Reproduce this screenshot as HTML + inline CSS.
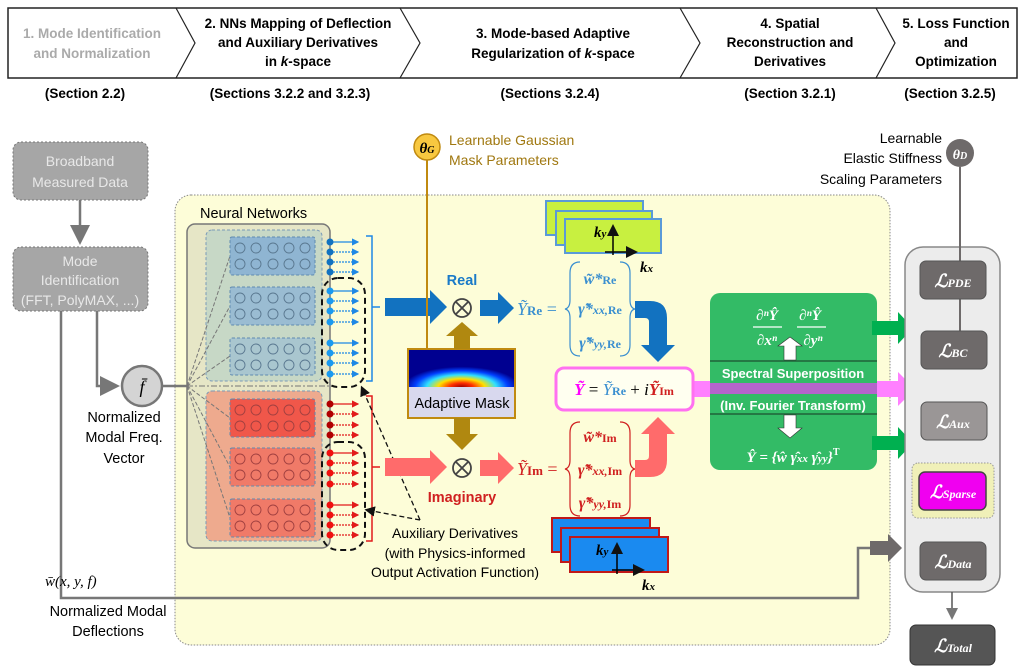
<!DOCTYPE html>
<html><head><meta charset="utf-8"><style>
html,body{margin:0;padding:0;background:#fff;}
svg{display:block;font-family:"Liberation Sans",sans-serif;}
.c{font-family:"Liberation Sans Narrow","Liberation Sans",sans-serif;}
.m{font-family:"Liberation Serif",serif;font-style:italic;font-weight:bold;}
</style></head><body>
<svg width="1023" height="672" viewBox="0 0 1023 672" xmlns="http://www.w3.org/2000/svg">
<defs>
<marker id="ag" markerWidth="8" markerHeight="8" refX="6" refY="4" orient="auto"><path d="M0,0L8,4L0,8z" fill="#777"/></marker>
<marker id="ak" markerWidth="8" markerHeight="8" refX="6" refY="4" orient="auto"><path d="M0,0L8,4L0,8z" fill="#111"/></marker>
<marker id="ab" markerWidth="6" markerHeight="6" refX="5" refY="3" orient="auto"><path d="M0,0L6,3L0,6z" fill="#1e88e5"/></marker>
<marker id="ar" markerWidth="6" markerHeight="6" refX="5" refY="3" orient="auto"><path d="M0,0L6,3L0,6z" fill="#e21b1b"/></marker>
<radialGradient id="gs" cx="0.5" cy="1" r="0.55" fx="0.5" fy="1">
<stop offset="0" stop-color="#a00000"/><stop offset="0.2" stop-color="#ff3000"/><stop offset="0.4" stop-color="#ffe000"/><stop offset="0.6" stop-color="#30e0ff"/><stop offset="0.8" stop-color="#0040ff"/><stop offset="1" stop-color="#000090"/></radialGradient>
</defs>

<rect x="8" y="8" width="1009" height="70" fill="#fff" stroke="#222" stroke-width="1.5"/>
<g fill="none" stroke="#222" stroke-width="1.2">
<path d="M176,8 L195,43 L176,78"/><path d="M400,8 L420,43 L400,78"/><path d="M680,8 L700,43 L680,78"/><path d="M876,8 L895,43 L876,78"/>
</g>
<g class="c" font-weight="bold" font-size="13.5" text-anchor="middle">
<text x="92" y="38" fill="#aaa">1. Mode Identification</text><text x="92" y="58" fill="#aaa">and Normalization</text>
<text x="298" y="28">2. NNs Mapping of Deflection</text><text x="298" y="47">and Auxiliary Derivatives</text><text x="298" y="66">in <tspan font-style="italic">k</tspan>-space</text>
<text x="553" y="38">3. Mode-based Adaptive</text><text x="553" y="58">Regularization of <tspan font-style="italic">k</tspan>-space</text>
<text x="790" y="28">4. Spatial</text><text x="790" y="47">Reconstruction and</text><text x="790" y="66">Derivatives</text>
<text x="956" y="28">5. Loss Function</text><text x="956" y="47">and</text><text x="956" y="66">Optimization</text>
<text x="85" y="98">(Section 2.2)</text><text x="290" y="98">(Sections 3.2.2 and 3.2.3)</text><text x="550" y="98">(Sections 3.2.4)</text><text x="790" y="98">(Section 3.2.1)</text><text x="950" y="98">(Section 3.2.5)</text>
</g>

<rect x="175" y="195" width="715" height="450" rx="16" fill="#fdfdd8" stroke="#888" stroke-dasharray="1.5,1.5"/>

<rect x="13" y="142" width="135" height="58" rx="8" fill="#a6a6a6" stroke="#777" stroke-dasharray="2,2"/>
<text x="80" y="166" fill="#e8e8e8" font-size="14" text-anchor="middle">Broadband</text>
<text x="80" y="187" fill="#e8e8e8" font-size="14" text-anchor="middle">Measured Data</text>
<line x1="80" y1="200" x2="80" y2="240" stroke="#777" stroke-width="2.5" marker-end="url(#ag)"/>
<rect x="13" y="247" width="135" height="64" rx="8" fill="#a6a6a6" stroke="#777" stroke-dasharray="2,2"/>
<text x="80" y="266" fill="#e8e8e8" font-size="14" text-anchor="middle">Mode</text>
<text x="80" y="285" fill="#e8e8e8" font-size="14" text-anchor="middle">Identification</text>
<text x="80" y="305" fill="#e8e8e8" font-size="14" text-anchor="middle">(FFT, PolyMAX, ...)</text>
<path d="M97,311 V386 H115" fill="none" stroke="#777" stroke-width="2.5" marker-end="url(#ag)"/>
<circle cx="142" cy="386" r="20" fill="#d4d4d4" stroke="#777" stroke-width="2.5"/>
<text x="142" y="393" font-size="18" text-anchor="middle" font-family="Liberation Serif" font-style="italic">f̄</text>
<line x1="162" y1="386" x2="188" y2="386" stroke="#777" stroke-width="2.5"/>
<g font-size="14.5" text-anchor="middle"><text x="124" y="422">Normalized</text><text x="124" y="442">Modal Freq.</text><text x="124" y="463">Vector</text></g>
<path d="M61,311 V598 H858 V548 H878" fill="none" stroke="#777" stroke-width="2.5"/>
<path d="M870,541 H888 V534 L902,548 L888,562 V555 H870z" fill="#6e6a6a"/>
<text x="45" y="586" font-size="15" font-family="Liberation Serif" font-style="italic">w̄(x, y, f)</text>
<g font-size="14.5" text-anchor="middle"><text x="108" y="616">Normalized Modal</text><text x="108" y="636">Deflections</text></g>

<text x="200" y="218" font-size="14.5">Neural Networks</text>
<rect x="187" y="224" width="143" height="324" rx="8" fill="#e6e6c6" stroke="#777" stroke-width="1.5"/>
<rect x="206" y="230" width="116" height="151" rx="6" fill="#c7d8c6" stroke="#7a9ab8" stroke-dasharray="3,2"/>
<rect x="206" y="391" width="116" height="150" rx="6" fill="#eeaa8e" stroke="#7a9ab8" stroke-dasharray="3,2"/>
<line x1="163" y1="386" x2="330" y2="386" stroke="#777" stroke-dasharray="6,2,2,2"/>
<g stroke="#777" stroke-dasharray="4,2" fill="none">
<path d="M187,386 L230,256 M187,386 L230,306 M187,386 L230,356 M187,386 L230,418 M187,386 L230,467 M187,386 L230,518"/>
</g>
<g stroke="#5f8ab0" stroke-dasharray="3,2">
<rect x="230" y="237" width="85" height="38" rx="2" fill="#8fb5d2"/>
<rect x="230" y="287" width="85" height="38" rx="2" fill="#9abcd2"/>
<rect x="230" y="338" width="85" height="37" rx="2" fill="#a9c6cf"/>
<rect x="230" y="399" width="85" height="38" rx="2" fill="#f0574a"/>
<rect x="230" y="448" width="85" height="38" rx="2" fill="#f07a68"/>
<rect x="230" y="499" width="85" height="38" rx="2" fill="#f07a68"/>
</g>
<g fill="none" stroke="#5a7890" stroke-width="0.9">
<circle cx="240" cy="248" r="5"/><circle cx="256" cy="248" r="5"/><circle cx="273" cy="248" r="5"/><circle cx="289" cy="248" r="5"/><circle cx="305" cy="248" r="5"/>
<circle cx="240" cy="264" r="5"/><circle cx="256" cy="264" r="5"/><circle cx="273" cy="264" r="5"/><circle cx="289" cy="264" r="5"/><circle cx="305" cy="264" r="5"/>
<circle cx="240" cy="298" r="5"/><circle cx="256" cy="298" r="5"/><circle cx="273" cy="298" r="5"/><circle cx="289" cy="298" r="5"/><circle cx="305" cy="298" r="5"/>
<circle cx="240" cy="314" r="5"/><circle cx="256" cy="314" r="5"/><circle cx="273" cy="314" r="5"/><circle cx="289" cy="314" r="5"/><circle cx="305" cy="314" r="5"/>
<circle cx="240" cy="349" r="5"/><circle cx="256" cy="349" r="5"/><circle cx="273" cy="349" r="5"/><circle cx="289" cy="349" r="5"/><circle cx="305" cy="349" r="5"/>
<circle cx="240" cy="365" r="5"/><circle cx="256" cy="365" r="5"/><circle cx="273" cy="365" r="5"/><circle cx="289" cy="365" r="5"/><circle cx="305" cy="365" r="5"/>
</g>
<g fill="none" stroke="#a04040" stroke-width="0.9">
<circle cx="240" cy="410" r="5"/><circle cx="256" cy="410" r="5"/><circle cx="273" cy="410" r="5"/><circle cx="289" cy="410" r="5"/><circle cx="305" cy="410" r="5"/>
<circle cx="240" cy="426" r="5"/><circle cx="256" cy="426" r="5"/><circle cx="273" cy="426" r="5"/><circle cx="289" cy="426" r="5"/><circle cx="305" cy="426" r="5"/>
<circle cx="240" cy="459" r="5"/><circle cx="256" cy="459" r="5"/><circle cx="273" cy="459" r="5"/><circle cx="289" cy="459" r="5"/><circle cx="305" cy="459" r="5"/>
<circle cx="240" cy="475" r="5"/><circle cx="256" cy="475" r="5"/><circle cx="273" cy="475" r="5"/><circle cx="289" cy="475" r="5"/><circle cx="305" cy="475" r="5"/>
<circle cx="240" cy="510" r="5"/><circle cx="256" cy="510" r="5"/><circle cx="273" cy="510" r="5"/><circle cx="289" cy="510" r="5"/><circle cx="305" cy="510" r="5"/>
<circle cx="240" cy="526" r="5"/><circle cx="256" cy="526" r="5"/><circle cx="273" cy="526" r="5"/><circle cx="289" cy="526" r="5"/><circle cx="305" cy="526" r="5"/>
</g>
<g stroke="#1e88e5" stroke-width="1.2">
<line x1="330" y1="242" x2="358" y2="242" marker-end="url(#ab)"/>
<line x1="330" y1="252" x2="358" y2="252" stroke-dasharray="2,1" marker-end="url(#ab)"/>
<line x1="330" y1="262" x2="358" y2="262" stroke-dasharray="2,1" marker-end="url(#ab)"/>
<line x1="330" y1="272" x2="358" y2="272" stroke-dasharray="2,1" marker-end="url(#ab)"/>
<line x1="330" y1="291" x2="358" y2="291" marker-end="url(#ab)"/>
<line x1="330" y1="301" x2="358" y2="301" stroke-dasharray="2,1" marker-end="url(#ab)"/>
<line x1="330" y1="311" x2="358" y2="311" stroke-dasharray="2,1" marker-end="url(#ab)"/>
<line x1="330" y1="322" x2="358" y2="322" stroke-dasharray="2,1" marker-end="url(#ab)"/>
<line x1="330" y1="343" x2="358" y2="343" marker-end="url(#ab)"/>
<line x1="330" y1="353" x2="358" y2="353" stroke-dasharray="2,1" marker-end="url(#ab)"/>
<line x1="330" y1="363" x2="358" y2="363" stroke-dasharray="2,1" marker-end="url(#ab)"/>
<line x1="330" y1="374" x2="358" y2="374" stroke-dasharray="2,1" marker-end="url(#ab)"/>
</g>
<g fill="#1272c0"><circle cx="330" cy="242" r="3.5"/><circle cx="330" cy="252" r="3.5"/><circle cx="330" cy="262" r="3.5"/><circle cx="330" cy="272" r="3.5"/></g>
<g fill="#1a9af0"><circle cx="330" cy="291" r="3.5"/><circle cx="330" cy="301" r="3.5"/><circle cx="330" cy="311" r="3.5"/><circle cx="330" cy="322" r="3.5"/><circle cx="330" cy="343" r="3.5"/><circle cx="330" cy="353" r="3.5"/><circle cx="330" cy="363" r="3.5"/><circle cx="330" cy="374" r="3.5"/></g>
<g stroke="#e21b1b" stroke-width="1.2">
<line x1="330" y1="404" x2="358" y2="404" marker-end="url(#ar)"/>
<line x1="330" y1="414" x2="358" y2="414" stroke-dasharray="2,1" marker-end="url(#ar)"/>
<line x1="330" y1="425" x2="358" y2="425" stroke-dasharray="2,1" marker-end="url(#ar)"/>
<line x1="330" y1="435" x2="358" y2="435" stroke-dasharray="2,1" marker-end="url(#ar)"/>
<line x1="330" y1="453" x2="358" y2="453" marker-end="url(#ar)"/>
<line x1="330" y1="463" x2="358" y2="463" stroke-dasharray="2,1" marker-end="url(#ar)"/>
<line x1="330" y1="473" x2="358" y2="473" stroke-dasharray="2,1" marker-end="url(#ar)"/>
<line x1="330" y1="484" x2="358" y2="484" stroke-dasharray="2,1" marker-end="url(#ar)"/>
<line x1="330" y1="505" x2="358" y2="505" marker-end="url(#ar)"/>
<line x1="330" y1="515" x2="358" y2="515" stroke-dasharray="2,1" marker-end="url(#ar)"/>
<line x1="330" y1="525" x2="358" y2="525" stroke-dasharray="2,1" marker-end="url(#ar)"/>
<line x1="330" y1="535" x2="358" y2="535" stroke-dasharray="2,1" marker-end="url(#ar)"/>
</g>
<g fill="#b00000"><circle cx="330" cy="404" r="3.5"/><circle cx="330" cy="414" r="3.5"/><circle cx="330" cy="425" r="3.5"/><circle cx="330" cy="435" r="3.5"/></g>
<g fill="#f01010"><circle cx="330" cy="453" r="3.5"/><circle cx="330" cy="463" r="3.5"/><circle cx="330" cy="473" r="3.5"/><circle cx="330" cy="484" r="3.5"/><circle cx="330" cy="505" r="3.5"/><circle cx="330" cy="515" r="3.5"/><circle cx="330" cy="525" r="3.5"/><circle cx="330" cy="535" r="3.5"/></g>
<rect x="322" y="278" width="43" height="109" rx="16" fill="none" stroke="#111" stroke-width="2" stroke-dasharray="6,4"/>
<rect x="322" y="442" width="43" height="108" rx="16" fill="none" stroke="#111" stroke-width="2" stroke-dasharray="6,4"/>
<path d="M366,236 H372 V381 H366 M372,307 H380" fill="none" stroke="#1e88e5" stroke-width="1.5"/>
<path d="M366,396 H372 V541 H366 M372,467 H380" fill="none" stroke="#e21b1b" stroke-width="1.5"/>
<g stroke="#111" stroke-width="1.3" stroke-dasharray="5,3" fill="none">
<path d="M420,520 L362,388" marker-end="url(#ak)"/><path d="M420,520 L367,510" marker-end="url(#ak)"/>
</g>
<g font-size="14" text-anchor="middle"><text x="455" y="538">Auxiliary Derivatives</text><text x="455" y="558">(with Physics-informed</text><text x="455" y="577">Output Activation Function)</text></g>

<path d="M385,298 H430 V290 L447,307 L430,324 V316 H385z" fill="#1272c0"/>
<path d="M385,458 H430 V450 L447,467 L430,484 V476 H385z" fill="#ff6b6b"/>
<text x="462" y="285" fill="#1a7ac8" font-weight="bold" font-size="14.5" text-anchor="middle">Real</text>
<text x="462" y="502" fill="#d02020" font-weight="bold" font-size="14.5" text-anchor="middle">Imaginary</text>
<g stroke="#444" stroke-width="1.8" fill="none"><circle cx="462" cy="308" r="9"/><path d="M456,302 L468,314 M468,302 L456,314"/><circle cx="462" cy="468" r="9"/><path d="M456,462 L468,474 M468,462 L456,474"/></g>
<path d="M480,300 H498 V292 L514,308 L498,324 V316 H480z" fill="#1272c0"/>
<path d="M480,460 H498 V452 L514,468 L498,484 V476 H480z" fill="#ff6b6b"/>

<line x1="427" y1="160" x2="427" y2="350" stroke="#c08a10" stroke-width="2"/>
<circle cx="427" cy="147" r="13" fill="#f8c840" stroke="#c08a10" stroke-width="1.5"/>
<text x="427" y="153" font-size="15" class="m" text-anchor="middle">θ<tspan font-size="10">G</tspan></text>
<text x="449" y="145" fill="#a07810" font-size="14">Learnable Gaussian</text>
<text x="449" y="165" fill="#a07810" font-size="14">Mask Parameters</text>
<rect x="408" y="349" width="107" height="69" fill="#d8d8ee" stroke="#c08a10" stroke-width="2"/>
<rect x="409" y="350" width="105" height="37" fill="url(#gs)"/>
<text x="462" y="408" font-size="14.5" text-anchor="middle">Adaptive Mask</text>
<path d="M454,349 V336 H446 L462,322 L478,336 H470 V349z" fill="#b08810"/>
<path d="M454,418 V434 H446 L462,450 L478,434 H470 V418z" fill="#b08810"/>

<g font-family="Liberation Serif" font-size="18">
<text x="517" y="315" fill="#3a8fd0"><tspan font-style="italic">Ỹ</tspan><tspan font-size="13" font-weight="bold">Re</tspan> =</text>
<text x="517" y="475" fill="#d02020"><tspan font-style="italic">Ỹ</tspan><tspan font-size="13" font-weight="bold">Im</tspan> =</text>
</g>
<path d="M580,262 Q570,262 570,273 V300 Q570,308 565,309 Q570,310 570,318 V345 Q570,356 580,356" fill="none" stroke="#3a8fd0" stroke-width="1.2"/>
<path d="M620,262 Q630,262 630,273 V300 Q630,308 635,309 Q630,310 630,318 V345 Q630,356 620,356" fill="none" stroke="#3a8fd0" stroke-width="1.2"/>
<path d="M580,422 Q570,422 570,433 V460 Q570,468 565,469 Q570,470 570,478 V505 Q570,516 580,516" fill="none" stroke="#d02020" stroke-width="1.2"/>
<path d="M620,422 Q630,422 630,433 V460 Q630,468 635,469 Q630,470 630,478 V505 Q630,516 620,516" fill="none" stroke="#d02020" stroke-width="1.2"/>
<g font-family="Liberation Serif" font-style="italic" font-weight="bold" font-size="16" text-anchor="middle">
<text x="600" y="284" fill="#3a8fd0">w̃*<tspan font-size="12" font-style="normal">Re</tspan></text>
<text x="600" y="314" fill="#3a8fd0">γ̃*<tspan font-size="12">xx,</tspan><tspan font-size="12" font-style="normal">Re</tspan></text>
<text x="600" y="348" fill="#3a8fd0">γ̃*<tspan font-size="12">yy,</tspan><tspan font-size="12" font-style="normal">Re</tspan></text>
<text x="600" y="442" fill="#d02020">w̃*<tspan font-size="12" font-style="normal">Im</tspan></text>
<text x="600" y="475" fill="#d02020">γ̃*<tspan font-size="12">xx,</tspan><tspan font-size="12" font-style="normal">Im</tspan></text>
<text x="600" y="508" fill="#d02020">γ̃*<tspan font-size="12">yy,</tspan><tspan font-size="12" font-style="normal">Im</tspan></text>
</g>
<g stroke="#5a9ad8" stroke-width="2" fill="#c8f040">
<rect x="546" y="201" width="97" height="34"/><rect x="556" y="211" width="96" height="34"/><rect x="565" y="219" width="96" height="34"/>
</g>
<g stroke="#c01818" stroke-width="2" fill="#1a8af0">
<rect x="552" y="518" width="98" height="34"/><rect x="561" y="528" width="98" height="34"/><rect x="570" y="537" width="98" height="35"/>
</g>
<g stroke="#000" stroke-width="1.5">
<line x1="613" y1="255" x2="613" y2="227" marker-end="url(#ak)"/><line x1="605" y1="252" x2="635" y2="252" marker-end="url(#ak)"/>
<line x1="617" y1="574" x2="617" y2="545" marker-end="url(#ak)"/><line x1="612" y1="570" x2="642" y2="570" marker-end="url(#ak)"/>
</g>
<g class="m" font-size="15"><text x="594" y="237">k<tspan font-size="11">y</tspan></text><text x="640" y="272">k<tspan font-size="11">x</tspan></text>
<text x="596" y="555">k<tspan font-size="11">y</tspan></text><text x="642" y="590">k<tspan font-size="11">x</tspan></text></g>

<path d="M635,301 H650 Q667,301 667,318 V345 H675 L658,362 L641,345 H649 V322 Q649,318 645,318 H635z" fill="#1272c0"/>
<path d="M635,477 H650 Q667,477 667,460 V434 H675 L658,417 L641,434 H649 V456 Q649,460 645,460 H635z" fill="#ff6b6b"/>

<path d="M693,381 H898 V372 L915,389 L898,406 V397 H693z" fill="#ff80ff"/>
<rect x="556" y="368" width="137" height="42" rx="8" fill="#fffff0" stroke="#ff70f0" stroke-width="3"/>
<text x="624" y="395" font-family="Liberation Serif" font-size="17" text-anchor="middle"><tspan fill="#ff00ff" font-style="italic" font-weight="bold">Ỹ</tspan> = <tspan fill="#3a8fd0" font-style="italic">Ỹ</tspan><tspan fill="#3a8fd0" font-size="12" font-weight="bold">Re</tspan> + <tspan font-style="italic">i</tspan><tspan fill="#d02020" font-style="italic" font-weight="bold">Ỹ</tspan><tspan fill="#d02020" font-size="12" font-weight="bold">Im</tspan></text>

<rect x="710" y="293" width="167" height="177" rx="10" fill="#33bb66"/>
<line x1="710" y1="361" x2="877" y2="361" stroke="#1c5030" stroke-width="1.2"/>
<line x1="710" y1="414" x2="877" y2="414" stroke="#1c5030" stroke-width="1.2"/>
<rect x="710" y="383" width="167" height="11" fill="#cc55dd" opacity="0.85"/>
<g fill="#fff" font-family="Liberation Serif" font-style="italic" font-weight="bold" font-size="15" text-anchor="middle">
<text x="767" y="320">∂ⁿŶ</text><text x="810" y="320">∂ⁿŶ</text>
<text x="767" y="345">∂xⁿ</text><text x="795" y="345">,</text><text x="813" y="345">∂yⁿ</text>
<text x="793" y="462">Ŷ = {ŵ   γ̂<tspan font-size="11">xx</tspan>   γ̂<tspan font-size="11">yy</tspan>}<tspan font-size="10" font-style="normal" dy="-7">T</tspan></text>
</g>
<line x1="753" y1="327" x2="782" y2="327" stroke="#fff" stroke-width="1.2"/><line x1="797" y1="327" x2="826" y2="327" stroke="#fff" stroke-width="1.2"/>
<path d="M784,360 V346 H778 L790,337 L802,346 H796 V360z" fill="#fff" stroke="#333" stroke-width="0.6"/>
<path d="M784,415 V428 H778 L790,438 L802,428 H796 V415z" fill="#fff" stroke="#333" stroke-width="0.6"/>
<g fill="#fff" font-weight="bold" font-size="13" text-anchor="middle"><text x="793" y="378">Spectral Superposition</text><text x="793" y="410">(Inv. Fourier Transform)</text></g>
<path d="M872,321 H898 V312 L913,328 L898,344 V335 H872z" fill="#00b050"/>
<path d="M872,436 H898 V427 L913,443 L898,459 V450 H872z" fill="#00b050"/>

<rect x="905" y="247" width="95" height="345" rx="18" fill="#ececec" stroke="#888" stroke-width="1.5"/>
<circle cx="960" cy="153" r="14" fill="#6e6a6a"/>
<text x="960" y="159" fill="#fff" class="m" font-size="14" text-anchor="middle">θ<tspan font-size="10">D</tspan></text>
<line x1="960" y1="167" x2="960" y2="340" stroke="#6e6a6a" stroke-width="2"/>
<g class="c" font-size="14" text-anchor="end"><text x="942" y="143">Learnable</text><text x="942" y="163">Elastic Stiffness</text><text x="942" y="184">Scaling Parameters</text></g>
<rect x="920" y="261" width="66" height="38" rx="6" fill="#6e6a6a" stroke="#555"/>
<rect x="921" y="331" width="66" height="38" rx="6" fill="#6e6a6a" stroke="#555"/>
<rect x="921" y="402" width="66" height="38" rx="6" fill="#9a9696" stroke="#555"/>
<rect x="912" y="463" width="82" height="55" rx="6" fill="#f0f0b8" stroke="#999" stroke-dasharray="1.5,1.5"/>
<rect x="919" y="472" width="67" height="38" rx="6" fill="#f000f0" stroke="#444" stroke-width="1.5"/>
<rect x="920" y="542" width="66" height="38" rx="6" fill="#6e6a6a" stroke="#555"/>
<line x1="952" y1="592" x2="952" y2="617" stroke="#555" stroke-width="1.5" marker-end="url(#ag)"/>
<rect x="910" y="625" width="85" height="40" rx="6" fill="#555" stroke="#333"/>
<g fill="#fff" font-family="Liberation Serif" font-style="italic" font-weight="bold" font-size="18" text-anchor="middle">
<text x="953" y="287">ℒ<tspan font-size="12">PDE</tspan></text>
<text x="953" y="357">ℒ<tspan font-size="12">BC</tspan></text>
<text x="953" y="428">ℒ<tspan font-size="12">Aux</tspan></text>
<text x="953" y="498">ℒ<tspan font-size="12">Sparse</tspan></text>
<text x="953" y="568">ℒ<tspan font-size="12">Data</tspan></text>
<text x="953" y="652">ℒ<tspan font-size="12">Total</tspan></text>
</g>
</svg>
</body></html>
